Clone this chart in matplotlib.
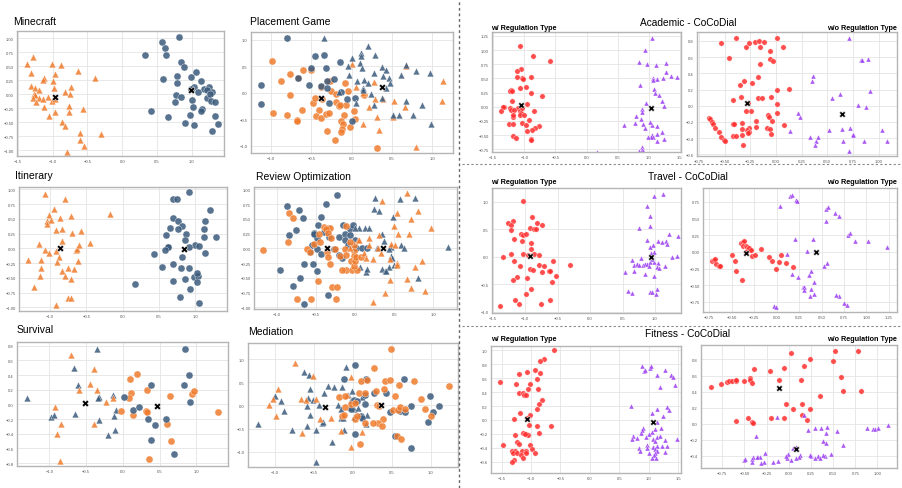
import numpy as np
import matplotlib.pyplot as plt
from matplotlib.lines import Line2D

plt.rcParams['font.family'] = ['Liberation Sans', 'DejaVu Sans']

W, H = 903, 489

ORANGE = '#ef7b2d'
BLUE = '#3b5a7b'
RED = '#ff2e2e'
PURPLE = '#9b3df2'

# ---------------- left half: 6 tasks ----------------
mc_orange_tri = [(-1.28,0.66),(-1.37,0.54),(-1.31,0.38),(-1.01,0.54),(-0.88,0.52),(-0.96,0.37),(-0.64,0.42),
                 (-0.39,0.30),(-1.12,0.30),(-1.13,0.26),(-1.00,0.23),(-1.31,0.14),(-1.25,0.11),(-1.19,0.07),
                 (-0.98,0.11),(-0.74,0.13),(-0.82,0.04),(-0.75,0.01),(-1.26,0.00),(-1.25,-0.02),(-1.28,-0.06),
                 (-1.19,-0.07),(-1.13,-0.09),(-1.07,-0.05),(-1.24,-0.13),(-1.01,-0.11),(-0.97,-0.09),(-1.12,-0.23),
                 (-0.77,-0.20),(-0.57,-0.27),(-0.96,-0.31),(-0.76,-0.32),(-1.05,-0.38),(-0.86,-0.50),(-0.82,-0.57),
                 (-0.61,-0.69),(-0.30,-0.70),(-0.60,-0.82),(-0.55,-0.93),(-0.79,-1.02)]
mc_blue_dot = [(0.81,1.02),(0.57,0.93),(0.61,0.82),(0.63,0.70),(0.32,0.71),(0.84,0.58),(0.88,0.49),(1.06,0.39),
               (0.78,0.32),(0.58,0.27),(0.98,0.31),(0.79,0.20),(1.13,0.24),(1.03,0.13),(0.99,0.10),(1.17,0.10),
               (1.25,0.13),(1.09,0.05),(1.29,0.05),(1.21,0.08),(0.77,-0.01),(0.84,-0.04),(1.21,-0.07),(1.26,0.01),
               (1.00,-0.10),(1.27,-0.12),(1.33,-0.14),(0.75,-0.13),(1.02,-0.23),(1.15,-0.26),(1.13,-0.30),
               (0.41,-0.30),(0.66,-0.40),(0.97,-0.37),(1.33,-0.38),(0.90,-0.52),(1.03,-0.54),(1.38,-0.53),(1.29,-0.66)]
mc_centers = [(-0.96,-0.05),(0.98,0.07)]

pg_blue_dot = [(-0.80,1.03),(-1.12,0.15),(-1.13,-0.22),(-0.45,0.69),(-0.66,0.27),(-0.32,0.47),(-0.51,0.46),
               (-0.53,0.15),(-0.38,0.12),(-0.30,0.23),(-0.30,0.09),(-0.28,-0.20),(-0.14,0.59),(-0.22,0.26),
               (-0.13,0.01),(-0.06,-0.11),(0.04,-0.09),(0.00,-0.53),(-0.34,0.71)]
pg_blue_tri = [(-0.34,1.04),(0.21,0.89),(0.12,0.75),(0.12,0.70),(0.29,0.72),(0.01,0.66),(0.10,0.57),(-0.04,0.50),
               (0.13,0.46),(0.28,0.38),(0.38,0.49),(0.43,0.44),(-0.03,0.33),(0.07,0.22),(0.15,0.24),(0.20,0.18),
               (0.14,0.09),(0.14,0.06),(0.39,0.32),(0.47,0.27),(0.48,0.19),(0.43,0.09),(0.61,0.33),(0.68,0.52),
               (0.80,0.42),(0.98,0.38),(0.24,-0.03),(0.06,-0.19),(0.38,-0.10),(0.28,-0.23),(0.52,-0.42),
               (0.59,-0.43),(0.67,-0.15),(0.88,-0.23),(0.76,-0.43),(0.99,-0.59),(-0.16,0.01)]
pg_orange_dot = [(-0.99,0.60),(-0.77,0.35),(-0.60,0.44),(-0.51,0.43),(-0.88,0.23),(-0.67,0.27),(-0.29,0.22),
                 (-0.27,0.23),(-0.38,0.11),(-0.76,-0.04),(-0.98,-0.39),(-0.80,-0.42),(-0.68,-0.51),(-0.62,-0.33),
                 (-0.48,-0.19),(-0.45,-0.10),(-0.37,-0.12),(-0.40,-0.32),(-0.44,-0.44),(-0.38,-0.48),(-0.32,-0.40),
                 (-0.28,-0.38),(-0.25,0.03),(-0.19,-0.03),(-0.20,-0.18),(-0.16,-0.25),(-0.08,0.18),(-0.04,0.04),
                 (-0.07,-0.23),(-0.14,-0.23),(0.03,-0.34),(-0.10,-0.42),(-0.13,-0.54),(-0.11,-0.59),(-0.12,-0.68),
                 (-0.13,-0.75),(-0.30,-0.72),(-0.21,-0.89),(-0.02,-0.65),(0.04,-0.50),(0.16,-0.05),(0.32,-1.04),
                 (-0.68,-0.53)]
pg_orange_tri = [(0.00,0.54),(0.06,0.11),(0.28,0.20),(0.14,-0.01),(0.22,-0.26),(0.39,-0.11),(0.32,-0.46),
                 (0.34,-0.71),(0.53,-0.16),(0.66,-0.27),(0.51,-0.46),(0.68,0.51),(0.80,-1.03),(1.13,0.22),
                 (1.12,-0.16),(0.14,-0.59),(0.29,-0.11)]
pg_centers = [(-0.38,-0.10),(0.38,0.11)]

it_orange_tri = [(-1.07,0.92),(-0.80,0.83),(-0.95,0.67),(-1.02,0.56),(-1.05,0.47),(-0.99,0.48),(-1.04,0.42),
                 (-0.87,0.51),(-0.71,0.55),(-0.18,0.59),(-0.92,0.32),(-0.83,0.33),(-0.70,0.26),(-0.57,0.30),
                 (-0.83,0.13),(-1.15,0.07),(-1.07,-0.03),(-1.02,-0.07),(-0.92,-0.04),(-0.64,-0.03),(-0.63,-0.01),
                 (-0.60,0.05),(-0.45,0.09),(-1.30,-0.19),(-0.88,-0.15),(-1.13,-0.20),(-0.90,-0.23),(-0.61,-0.22),
                 (-1.13,-0.33),(-0.84,-0.38),(-0.76,-0.34),(-0.67,-0.35),(-1.14,-0.46),(-0.79,-0.46),(-0.71,-0.51),
                 (-1.22,-0.65),(-0.75,-0.84),(-0.71,-0.84),(-0.92,-0.95)]
it_blue_dot = [(0.91,0.95),(0.70,0.84),(0.75,0.84),(1.21,0.65),(0.69,0.51),(0.77,0.46),(0.82,0.38),(0.66,0.34),
               (0.76,0.33),(1.13,0.46),(1.12,0.33),(0.60,0.22),(0.88,0.24),(1.12,0.20),(1.29,0.19),(0.86,0.15),
               (1.00,0.06),(1.06,0.04),(0.91,0.03),(0.63,0.02),(0.63,0.02),(0.59,-0.03),(1.14,-0.07),(0.43,-0.09),
               (0.82,-0.14),(0.55,-0.31),(0.69,-0.26),(0.81,-0.33),(0.92,-0.33),(0.70,-0.55),(0.86,-0.51),
               (0.98,-0.48),(1.04,-0.47),(1.03,-0.41),(1.02,-0.57),(0.93,-0.68),(0.79,-0.82),(1.06,-0.92),(0.17,-0.60)]
it_centers = [(-0.86,0.01),(0.84,-0.01)]

ro_blue_dot = [(-0.23,0.90),(-0.87,0.72),(-0.37,0.75),(-0.71,0.65),(-0.44,0.53),(-0.66,0.52),(-0.75,0.31),
               (-0.84,0.22),(-0.47,0.40),(-0.53,0.26),(-0.40,0.28),(-0.48,0.18),(-0.52,0.24),(-0.33,0.19),
               (-0.20,0.19),(-0.15,0.40),(-0.13,0.24),(-0.06,0.33),(-0.03,0.39),(-0.06,0.22),(0.00,0.14),
               (-0.13,0.14),(-0.09,0.06),(-0.55,0.05),(-0.49,-0.02),(-0.57,-0.06),(-0.44,-0.10),(-0.27,-0.02),
               (-0.20,-0.11),(-0.17,-0.17),(-0.65,-0.27),(-0.54,-0.26),(-0.49,-0.38),(-0.96,-0.36),(-0.70,-0.50),
               (-0.79,-0.64),(-0.34,-0.80),(-0.65,-0.94),(0.01,0.00),(0.09,0.00),(0.15,0.00)]
ro_blue_tri = [(0.25,0.85),(0.57,0.84),(0.77,0.85),(0.24,0.66),(0.31,0.64),(0.48,0.53),(0.12,0.35),(0.18,0.35),
               (0.05,0.34),(0.34,0.24),(0.37,0.13),(0.46,0.03),(0.58,0.06),(0.63,0.00),(1.18,0.02),(0.28,0.00),
               (0.43,-0.02),(0.46,-0.13),(0.47,-0.17),(0.34,-0.35),(0.38,-0.38),(0.43,-0.31),(0.49,-0.28),
               (0.40,-0.39),(0.14,-0.40),(0.15,-0.35),(0.80,-0.50),(0.06,-0.32),(0.00,0.34)]
ro_orange_dot = [(-1.18,-0.03),(-0.84,0.60),(-0.79,0.51),(-0.86,0.10),(-0.62,-0.02),(-0.57,-0.07),(-0.53,0.07),
                 (-0.45,0.11),(-0.46,0.25),(-0.40,0.36),(-0.34,0.35),(-0.32,0.35),(-0.37,0.32),(-0.34,0.26),
                 (-0.31,0.18),(-0.36,-0.07),(-0.34,-0.15),(-0.32,-0.26),(-0.30,-0.65),(-0.23,-0.66),(-0.24,-0.86),
                 (-0.56,-0.86),(-0.74,-0.86),(-0.47,-0.55),(-0.26,-0.02),(-0.19,-0.13),(-0.13,-0.02),(-0.11,-0.11),
                 (-0.11,-0.36),(-0.17,-0.36),(-0.04,-0.36),(0.03,-0.37),(-0.11,0.38),(-0.02,-0.04),(-0.02,-0.13),
                 (-0.05,-0.22),(-0.01,-0.30),(0.00,-0.21),(0.01,-0.15),(-0.02,0.06),(0.07,-0.15),(-0.07,0.10)]
ro_orange_tri = [(0.66,0.93),(0.34,0.80),(0.80,0.63),(0.54,0.60),(0.71,0.49),(0.97,0.35),(0.50,0.37),(0.55,0.24),
                 (0.69,0.24),(0.31,0.22),(0.18,0.18),(0.04,0.14),(0.29,0.01),(0.46,0.07),(0.51,0.06),(0.18,0.06),
                 (0.11,-0.08),(0.14,-0.17),(0.23,-0.19),(0.33,-0.08),(0.44,-0.19),(0.54,-0.25),(0.53,-0.28),
                 (0.76,-0.32),(0.85,-0.22),(0.66,-0.52),(0.71,-0.67),(0.89,-0.73),(0.45,-0.53),(0.38,-0.76),
                 (0.23,-0.91),(-0.07,0.00),(0.05,0.14)]
ro_centers = [(-0.36,0.00),(0.36,0.00)]

sv_blue_tri = [(-0.35,0.75),(-0.66,0.50),(-0.61,0.26),(-1.30,0.09),(-0.98,-0.17),(-0.94,-0.14),(-0.65,-0.13),
               (-0.32,0.10),(-0.34,0.08),(-0.33,-0.21),(-0.14,0.13),(-0.09,-0.08),(-0.12,-0.16),(-0.11,-0.35),
               (-0.20,-0.42)]
sv_orange_tri = [(-0.71,0.67),(-0.39,0.48),(-0.45,0.28),(-0.35,0.20),(-0.59,0.20),(-0.92,-0.03),(-0.84,-0.27),
                 (-0.90,-0.40),(-0.85,-0.77),(-0.23,0.03),(-0.14,0.08),(-0.39,-0.27)]
sv_orange_dot = [(0.10,0.35),(0.19,0.42),(0.11,0.16),(0.08,0.08),(-0.02,-0.09),(0.14,-0.14),(0.33,0.20),
                 (0.32,-0.09),(0.33,-0.11),(0.64,0.12),(0.60,-0.27),(0.65,-0.50),(0.94,0.14),(0.97,0.18),
                 (1.29,-0.10),(0.35,-0.75)]
sv_blue_dot = [(0.84,0.76),(0.90,0.40),(0.83,0.27),(0.38,0.27),(0.02,0.10),(0.14,-0.08),(0.22,-0.03),
               (0.34,-0.20),(0.44,-0.28),(0.58,-0.20),(0.38,-0.48),(0.70,-0.67),(0.91,0.03)]
sv_centers = [(-0.51,0.02),(0.47,-0.02)]

md_blue_tri = [(-1.22,-0.41),(-1.00,0.21),(-0.92,0.09),(-0.89,-0.13),(-0.63,0.73),(-0.57,0.66),(-0.55,0.36),
               (-0.58,0.16),(-0.52,0.11),(-0.44,0.01),(-0.59,-0.01),(-0.59,-0.45),(-0.55,-0.21),(-0.40,-0.38),
               (-0.39,-0.35),(-0.48,-0.54),(-0.78,-0.54),(-0.27,-0.80),(-0.37,0.28),(-0.32,0.41),(-0.25,0.39),
               (-0.19,0.01),(-0.15,-0.08),(-0.15,-0.28),(-0.11,-0.54),(-0.09,0.84),(-0.14,0.39),(-0.06,0.22),
               (-0.01,0.31),(-0.04,-0.03),(0.01,-0.07),(0.06,-0.06),(0.12,0.19),(0.18,-0.20),(0.17,-0.41),
               (0.01,-0.26),(-0.02,0.12),(-0.47,-1.22),(-0.13,-0.28)]
md_blue_dot = [(-0.11,0.57),(0.03,0.88),(0.17,0.57),(0.01,0.12),(0.05,0.10),(0.15,0.22),(0.15,0.04),
               (-0.03,-0.08),(0.10,-0.22),(0.11,-0.27),(0.03,-0.62),(0.27,0.28),(0.42,0.28),(0.48,-0.15),
               (0.54,-0.65),(0.66,0.57),(0.61,-0.13),(0.67,-0.14),(0.75,-0.02),(1.11,-0.01),(1.03,-0.14),
               (0.99,0.21),(0.96,-0.36),(0.75,-0.91)]
md_orange_tri = [(-0.75,0.91),(-0.96,0.36),(-1.03,0.14),(-1.08,0.01),(-0.99,-0.22),(-0.67,0.14),(-0.61,0.12),
                 (-0.52,0.64),(-0.47,0.15),(-0.42,-0.29),(-0.28,-0.28),(-0.16,-0.56),(-0.65,-0.59),(-0.03,-0.89),
                 (-0.03,0.62),(-0.08,0.22),(0.12,-0.57)]
md_orange_dot = [(0.49,1.22),(0.27,0.80),(0.10,0.53),(0.18,0.54),(0.41,0.53),(0.48,0.55),(0.59,0.44),(0.79,0.53),
                 (1.23,0.41),(-0.18,0.19),(-0.10,0.21),(-0.03,0.04),(0.03,0.05),(0.08,0.26),(0.15,0.28),
                 (0.29,0.32),(0.40,0.36),(0.31,0.00),(0.33,-0.01),(0.52,-0.10),(0.58,-0.09),(0.60,-0.04),
                 (0.67,-0.08),(0.54,0.21),(0.88,0.13),(0.93,-0.08),(1.00,-0.22),(0.38,-0.29),(0.32,-0.38),
                 (0.26,-0.38),(0.37,-0.44),(0.15,-0.38),(0.02,-0.30),(0.09,-0.84),(0.57,-0.66),(0.62,-0.72),
                 (-0.14,-0.22),(-0.11,-0.20),(0.05,-0.22),(-0.10,-0.04)]
md_centers = [(-0.36,-0.03),(0.36,0.01)]

# ---------------- right half: CoCoDial domains ----------------
ac_w_red = [(-1.07,1.07),(-0.86,0.90),(-0.59,0.80),(-1.05,0.67),(-1.12,0.63),(-1.03,0.51),(-1.02,0.49),
            (-0.89,0.53),(-1.12,0.53),(-1.07,0.33),(-0.97,0.34),(-1.21,0.30),(-1.23,0.28),(-1.20,0.27),
            (-0.90,0.24),(-0.72,0.19),(-1.20,0.10),(-0.96,0.05),(-1.32,-0.01),(-1.34,-0.01),(-1.23,-0.02),
            (-1.10,-0.02),(-1.37,-0.07),(-1.21,-0.05),(-1.17,-0.05),(-1.07,-0.07),(-1.06,-0.11),(-0.85,-0.08),
            (-1.07,-0.15),(-1.00,-0.15),(-1.18,-0.18),(-1.19,-0.14),(-0.92,-0.24),(-1.03,-0.28),(-1.25,-0.31),
            (-1.18,-0.31),(-0.98,-0.33),(-0.77,-0.34),(-0.83,-0.38),(-0.88,-0.42),(-0.96,-0.43),(-1.19,-0.52),
            (-1.14,-0.56),(-0.90,-0.57),(-0.89,-0.58),(-1.04,-0.03)]
ac_w_purple = [(1.05,1.21),(0.94,1.01),(0.84,0.79),(0.98,0.75),(1.11,0.74),(1.28,0.77),(1.07,0.51),(1.07,0.48),
               (1.13,0.49),(1.23,0.51),(1.28,0.62),(1.36,0.54),(1.45,0.52),(0.86,0.39),(1.08,0.31),(1.10,0.24),
               (1.17,0.21),(0.95,0.07),(1.21,0.10),(1.24,0.02),(0.90,-0.04),(0.89,-0.09),(0.80,-0.17),(0.87,-0.21),
               (0.78,-0.29),(0.60,-0.33),(1.06,-0.32),(0.91,-0.30),(0.94,-0.38),(1.02,-0.27),(1.14,-0.34),
               (1.22,-0.44),(1.06,-0.50),(1.07,-0.53),(1.03,-0.54),(1.13,-0.49),(0.99,-0.54),(1.24,-0.57),
               (1.14,-0.60),(0.90,-0.71),(0.89,-0.77),(0.85,-0.79),(0.91,-0.79),(0.17,-0.80)]
ac_w_centers = [(-1.05,0.03),(1.03,-0.02)]

ac_wo_red = [(-0.39,0.84),(-0.54,0.77),(-0.29,0.72),(-0.26,0.78),(-0.20,0.79),(-0.17,0.80),(-0.12,0.79),
             (0.01,0.84),(0.07,0.73),(-0.16,0.72),(-0.06,0.68),(-0.46,0.59),(-0.06,0.58),(-0.03,0.55),
             (-0.16,0.51),(-0.31,0.31),(-0.35,0.26),(-0.23,0.28),(-0.18,0.35),(-0.34,0.11),(-0.42,0.07),
             (-0.18,0.10),(-0.14,0.10),(-0.05,0.11),(0.01,0.19),(0.13,0.21),(0.01,0.02),(-0.27,0.04),
             (-0.24,-0.07),(-0.29,-0.07),(0.01,-0.09),(-0.08,-0.11),(-0.07,-0.14),(-0.04,-0.19),(-0.09,-0.27),
             (-0.19,-0.19),(-0.33,-0.21),(-0.26,-0.28),(-0.28,-0.30),(-0.26,-0.32),(-0.27,-0.34),(-0.33,-0.29),
             (-0.33,-0.36),(-0.32,-0.48),(-0.42,-0.37),(-0.39,-0.37),(-0.42,-0.22),(-0.41,-0.22),(-0.06,-0.29),
             (-0.05,-0.35),(0.08,-0.24),(-0.65,-0.15),(-0.64,-0.16),(-0.62,-0.20),(-0.61,-0.23),(-0.59,-0.27),
             (-0.56,-0.32),(-0.54,-0.38),(-0.51,-0.42),(-0.50,-0.44),(-0.19,-0.26)]
ac_wo_purple = [(0.71,0.84),(0.83,0.57),(0.84,0.57),(0.90,0.58),(0.92,0.18),(0.36,0.37),(0.35,0.30),(0.55,0.10),
                (0.62,0.14),(0.80,0.01),(0.88,-0.02),(0.21,-0.09),(0.23,-0.14),(0.14,-0.31),(0.33,-0.39),
                (0.39,-0.43),(0.41,-0.39),(0.38,-0.49),(0.52,-0.30),(0.64,-0.29),(0.72,-0.28),(0.75,-0.35),
                (0.75,-0.36),(0.65,-0.44),(0.86,-0.43),(1.03,-0.30),(1.08,-0.43),(0.71,-0.56)]
ac_wo_centers = [(-0.28,0.03),(0.64,-0.10)]

tr_w_red = [(-1.03,1.01),(-0.90,0.72),(-1.27,0.61),(-1.19,0.65),(-1.21,0.58),(-0.82,0.61),(-0.74,0.57),
            (-0.92,0.52),(-0.87,0.50),(-0.83,0.50),(-1.21,0.48),(-1.06,0.42),(-1.03,0.40),(-0.98,0.41),
            (-1.17,0.33),(-1.05,0.29),(-0.91,0.26),(-0.91,0.15),(-1.03,0.05),(-0.96,0.03),(-0.86,0.05),
            (-0.78,0.03),(-1.22,0.05),(-1.34,-0.01),(-1.17,-0.08),(-1.08,-0.16),(-0.92,-0.22),(-0.88,-0.24),
            (-0.78,-0.14),(-0.71,-0.16),(-0.57,-0.08),(-0.64,-0.26),(-0.62,-0.26),(-0.74,-0.27),(-0.31,-0.15),
            (-0.53,-0.35),(-1.12,-0.36),(-1.19,-0.42),(-0.97,-0.39),(-0.59,-0.45),(-0.91,-0.58),(-0.98,-0.67),
            (-1.16,-0.79),(-1.10,-0.86),(-0.76,-0.85),(-0.62,-0.78),(-1.38,-0.90)]
tr_w_purple = [(1.12,1.15),(0.98,1.10),(0.87,0.93),(0.92,0.74),(0.93,0.56),(0.76,0.53),(1.21,0.41),(1.35,0.37),
               (0.87,0.31),(0.97,0.22),(1.04,0.28),(1.11,0.27),(1.17,0.28),(1.18,0.24),(0.93,0.17),(0.99,0.08),
               (0.94,0.07),(1.26,-0.01),(1.34,0.01),(0.79,-0.02),(0.65,-0.06),(0.68,-0.15),(0.72,-0.13),
               (0.76,-0.15),(0.81,-0.15),(0.84,-0.13),(0.87,-0.13),(0.90,-0.16),(0.93,-0.10),(0.98,-0.10),
               (1.04,-0.12),(1.03,-0.19),(1.06,-0.21),(1.15,-0.16),(0.95,-0.04),(0.54,-0.28),(0.67,-0.26),
               (0.85,-0.32),(0.98,-0.35),(0.59,-0.62),(0.65,-0.65),(1.03,-0.58),(0.93,-0.64),(0.96,-0.64),
               (1.02,-0.68)]
tr_w_centers = [(-0.93,0.01),(0.94,-0.01)]

tr_wo_red = [(-0.72,-0.13),(-0.70,-0.12),(-0.69,-0.11),(-0.67,-0.18),(-0.64,-0.21),(-0.63,-0.21),(-0.50,-0.05),
             (-0.46,-0.13),(-0.45,-0.28),(-0.39,-0.42),(-0.40,0.14),(-0.38,0.15),(-0.36,0.16),(-0.37,0.09),
             (-0.34,0.09),(-0.33,0.07),(-0.32,0.04),(-0.30,0.03),(-0.31,0.06),(-0.29,0.03),(-0.34,0.00),
             (-0.27,-0.06),(-0.24,-0.05),(-0.17,0.05),(-0.09,-0.07),(-0.05,-0.14),(-0.01,-0.26),(0.03,-0.15),
             (0.05,-0.04),(0.10,-0.16),(0.18,-0.22)]
tr_wo_purple = [(0.15,0.84),(0.17,0.86),(0.21,0.78),(0.23,0.76),(0.04,0.69),(0.55,0.65),(0.57,0.67),(0.55,0.47),
                (0.65,0.59),(0.69,0.54),(0.80,0.26),(0.82,0.28),(0.87,0.16),(1.02,0.17),(1.23,0.08),(0.20,0.19),
                (0.40,0.19),(0.34,0.02),(0.12,-0.03),(0.17,-0.33),(0.24,-0.38),(0.38,-0.29),(0.36,-0.34),
                (0.29,-0.52),(0.30,-0.53),(0.30,-0.52),(0.30,-0.57),(0.38,-0.55),(0.42,-0.45),(0.42,-0.63),
                (0.37,-0.66),(0.56,-0.17),(0.53,-0.21),(0.69,-0.66),(0.66,-0.65),(0.75,-0.76),(0.78,-0.80),
                (-0.03,-0.81),(-0.01,-0.83)]
tr_wo_centers = [(-0.34,-0.01),(0.44,0.00)]

ft_w_red = [(-0.61,1.00),(-0.78,0.88),(-0.85,0.84),(-0.84,0.68),(-0.94,0.72),(-1.07,0.69),(-1.21,0.66),
            (-1.52,0.55),(-1.25,0.51),(-1.01,0.52),(-0.89,0.59),(-0.88,0.45),(-1.05,0.44),(-1.20,0.39),
            (-1.13,0.39),(-1.12,0.36),(-1.09,0.36),(-0.82,0.29),(-0.86,0.23),(-0.90,0.16),(-1.19,0.10),
            (-1.02,0.07),(-1.06,0.03),(-1.29,0.01),(-1.03,-0.07),(-0.90,-0.09),(-0.66,-0.08),(-0.86,-0.18),
            (-1.28,-0.22),(-1.13,-0.18),(-1.08,-0.20),(-1.05,-0.21),(-1.10,-0.20),(-1.23,-0.31),(-1.20,-0.34),
            (-1.01,-0.36),(-0.98,-0.41),(-0.93,-0.48),(-1.48,-0.36),(-1.32,-0.44),(-1.27,-0.45),(-1.31,-0.48),
            (-1.24,-0.48),(-1.16,-0.44),(-1.09,-0.45),(-1.09,-0.47),(-1.17,-0.50),(-1.14,-0.55),(-1.29,-0.58),
            (-1.33,-0.60)]
ft_w_purple = [(0.89,0.77),(0.92,0.70),(0.94,0.71),(1.02,0.75),(1.04,0.78),(1.14,0.65),(1.28,0.71),(1.38,0.65),
               (1.41,0.61),(1.44,0.50),(1.19,0.47),(0.70,0.20),(1.05,0.10),(1.15,0.16),(1.32,0.19),(1.35,0.14),
               (1.24,0.05),(1.15,-0.03),(0.90,-0.12),(0.89,-0.14),(0.87,-0.18),(0.74,-0.23),(0.72,-0.27),
               (0.81,-0.26),(0.96,-0.24),(0.98,-0.36),(1.05,-0.17),(1.10,-0.13),(1.21,-0.12),(1.01,-0.20),
               (1.07,-0.27),(1.10,-0.30),(1.15,-0.25),(1.19,-0.23),(1.27,-0.28),(1.49,-0.27),(0.84,-0.40),
               (0.86,-0.44),(0.98,-0.40),(1.08,-0.39),(1.15,-0.38),(1.23,-0.38),(1.31,-0.38),(1.11,-0.42),
               (1.15,-0.45),(1.27,-0.46),(1.01,-0.47),(1.11,-0.48),(1.09,-0.50),(1.13,-0.54),(1.06,-0.55)]
ft_w_centers = [(-1.07,0.02),(1.08,-0.03)]

ft_wo_red = [(-0.88,0.46),(-0.76,0.49),(-0.70,0.52),(-0.67,0.53),(-0.64,0.53),(-0.60,0.53),(-0.59,0.54),
             (-0.44,0.57),(-0.44,0.55),(-0.41,0.51),(-0.50,0.53),(-0.39,0.68),(-0.21,0.66),(-0.11,0.55),
             (-0.05,0.69),(0.02,0.88),(0.17,0.72),(0.14,0.55),(0.24,0.80),(0.52,0.91),(0.78,0.91),(0.50,0.78),
             (0.59,0.58),(0.61,0.41),(0.81,0.41),(0.35,0.34),(-0.03,0.25),(0.05,0.18),(0.15,0.25),(0.15,0.11),
             (0.20,0.05),(0.24,0.18),(-0.20,0.07),(-0.05,0.07),(-0.46,0.07),(-0.41,0.02),(-0.40,0.01),(-0.59,0.03)]
ft_wo_purple = [(-0.13,0.08),(0.17,0.11),(-0.37,-0.15),(0.22,-0.08),(0.29,-0.05),(0.36,-0.05),(0.43,-0.04),
                (0.42,-0.11),(0.54,-0.09),(0.39,-0.22),(0.42,-0.24),(0.61,-0.26),(0.88,-0.05),(0.95,-0.07),
                (0.97,-0.07),(1.01,-0.05),(1.12,-0.02),(0.48,-0.38),(0.41,-0.40),(0.39,-0.39),(0.33,-0.40),
                (0.35,-0.43),(0.30,-0.42),(0.25,-0.40),(0.24,-0.39),(0.13,-0.39),(0.11,-0.41),(0.08,-0.43),
                (0.02,-0.45),(-0.02,-0.43),(-0.01,-0.38),(0.05,-0.30),(0.08,-0.29),(-0.03,-0.40),(-0.12,-0.46),
                (-0.18,-0.47),(-0.27,-0.36),(-0.28,-0.48),(-0.31,-0.49),(-0.35,-0.41),(-0.32,-0.41),(-0.36,-0.41),
                (-0.40,-0.41),(-0.42,-0.44),(-0.42,-0.48),(-0.50,-0.45),(-0.49,-0.44)]
ft_wo_centers = [(-0.11,0.45),(0.08,-0.31)]


fig = plt.figure(figsize=(W / 100, H / 100), dpi=100)


def box(l, t, r, b):
    return [l / W, 1 - b / H, (r - l) / W, (b - t) / H]


def make_ax(rect, xlim, ylim, xstep, ystep):
    ax = fig.add_axes(box(*rect))
    ax.set_xlim(xlim)
    ax.set_ylim(ylim)
    x0 = np.ceil(xlim[0] / xstep - 1e-6) * xstep
    y0 = np.ceil(ylim[0] / ystep - 1e-6) * ystep
    ax.set_xticks(np.arange(x0, xlim[1] + 1e-6, xstep))
    ax.set_yticks(np.arange(y0, ylim[1] + 1e-6, ystep))
    ax.grid(True, color='#e4e4e4', linewidth=0.6)
    ax.set_axisbelow(True)
    ax.tick_params(length=0, labelsize=3, colors='#555555', pad=2.5)
    for sp in ax.spines.values():
        sp.set_color('#b5b5b5')
        sp.set_linewidth(1.0)
    return ax


def pts(ax, data, marker, color, size):
    a = np.array(data)
    ax.scatter(a[:, 0], a[:, 1], marker=marker, s=size, c=color, alpha=0.85,
               edgecolors='white', linewidths=0.3, zorder=2)


def centers(ax, data, size):
    a = np.array(data)
    ax.scatter(a[:, 0], a[:, 1], marker='X', s=size, c='black',
               edgecolors='white', linewidths=0.3, zorder=3)


# left panels
left = [
    ('Minecraft', (13, 22), (17, 32, 224, 157), (-1.51, 1.46), (-1.10, 1.13), 0.5, 0.25,
     [(mc_orange_tri, '^', ORANGE), (mc_blue_dot, 'o', BLUE)], mc_centers),
    ('Placement Game', (250, 22), (251, 33, 453, 154), (-1.25, 1.26), (-1.14, 1.15), 0.5, 0.5,
     [(pg_orange_dot, 'o', ORANGE), (pg_orange_tri, '^', ORANGE), (pg_blue_dot, 'o', BLUE),
      (pg_blue_tri, '^', BLUE)], pg_centers),
    ('Itinerary', (15, 176), (19, 188, 227, 312), (-1.43, 1.44), (-1.06, 1.04), 0.5, 0.25,
     [(it_orange_tri, '^', ORANGE), (it_blue_dot, 'o', BLUE)], it_centers),
    ('Review Optimization', (256, 177), (254, 188, 457, 310), (-1.29, 1.30), (-1.03, 1.04), 0.5, 0.25,
     [(ro_blue_dot, 'o', BLUE), (ro_blue_tri, '^', BLUE), (ro_orange_dot, 'o', ORANGE),
      (ro_orange_tri, '^', ORANGE)], ro_centers),
    ('Survival', (17, 330), (17, 343, 228, 467), (-1.44, 1.43), (-0.84, 0.85), 0.5, 0.2,
     [(sv_blue_tri, '^', BLUE), (sv_orange_tri, '^', ORANGE), (sv_orange_dot, 'o', ORANGE),
      (sv_blue_dot, 'o', BLUE)], sv_centers),
    ('Mediation', (248, 332), (248, 344, 458, 468), (-1.35, 1.35), (-1.33, 1.35), 0.5, 0.5,
     [(md_blue_tri, '^', BLUE), (md_blue_dot, 'o', BLUE), (md_orange_tri, '^', ORANGE),
      (md_orange_dot, 'o', ORANGE)], md_centers),
]

for title, tpos, rect, xl, yl, xs, ys, groups, cen in left:
    ax = make_ax(rect, xl, yl, xs, ys)
    for data, m, col in groups:
        pts(ax, data, m, col, 26 if m == 'o' else 24)
    centers(ax, cen, 24)
    fig.text(tpos[0] / W, 1 - tpos[1] / H, title, fontsize=7.5, va='center', ha='left')

# right panels
right = [
    ((492, 33, 681, 153), (-1.52, 1.52), (-0.80, 1.32), 0.5, 0.25, ac_w_red, ac_w_purple, ac_w_centers),
    ((697, 33, 897, 157), (-0.77, 1.18), (-0.62, 0.91), 0.25, 0.2, ac_wo_red, ac_wo_purple, ac_wo_centers),
    ((492, 189, 681, 314), (-1.51, 1.40), (-1.02, 1.25), 0.5, 0.5, tr_w_red, tr_w_purple, tr_w_centers),
    ((703, 189, 897, 313), (-0.82, 1.34), (-0.90, 0.96), 0.25, 0.25, tr_wo_red, tr_wo_purple, tr_wo_centers),
    ((491, 347, 681, 474), (-1.68, 1.55), (-0.76, 1.06), 0.5, 0.2, ft_w_red, ft_w_purple, ft_w_centers),
    ((701, 346, 897, 469), (-0.99, 1.22), (-0.55, 0.98), 0.25, 0.2, ft_wo_red, ft_wo_purple, ft_wo_centers),
]

for rect, xl, yl, xs, ys, red, purple, cen in right:
    ax = make_ax(rect, xl, yl, xs, ys)
    pts(ax, red, 'o', RED, 15)
    pts(ax, purple, '^', PURPLE, 13)
    centers(ax, cen, 20)

domain_titles = [('Academic - CoCoDial', 23), ('Travel - CoCoDial', 177), ('Fitness - CoCoDial', 334)]
for name, y in domain_titles:
    fig.text(688 / W, 1 - y / H, name, fontsize=7.3, ha='center', va='center')
    fig.text(491 / W, 1 - (y + 6) / H, 'w/ Regulation Type', fontsize=5.2, fontweight='bold',
             ha='left', va='center')
    fig.text(897 / W, 1 - (y + 6) / H, 'w/o Regulation Type', fontsize=5.2, fontweight='bold',
             ha='right', va='center')

# dashed separators
fig.add_artist(Line2D([459 / W, 459 / W], [0, 1], transform=fig.transFigure,
                      color='#666666', lw=1.0, ls=(0, (2, 2))))
for y in (165, 327):
    fig.add_artist(Line2D([462 / W, 1], [1 - y / H, 1 - y / H], transform=fig.transFigure,
                          color='#888888', lw=0.8, ls=(0, (2, 2))))

fig.savefig('out.png', dpi=100)
